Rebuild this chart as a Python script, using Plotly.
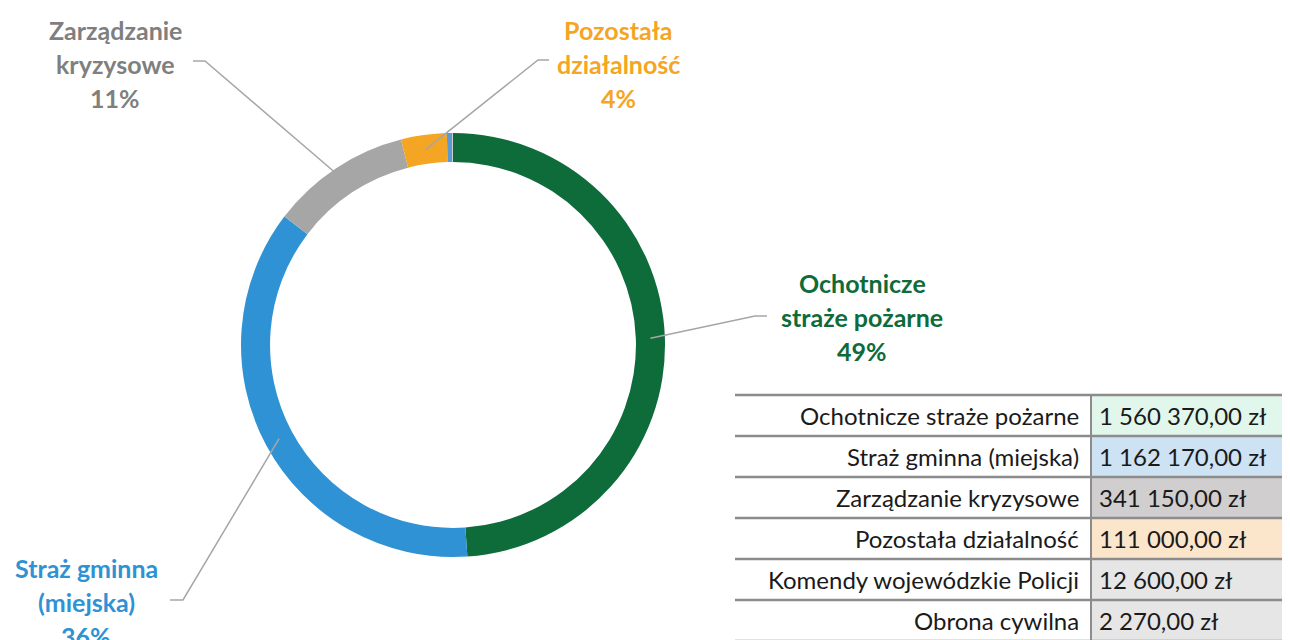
import plotly.graph_objects as go
import numpy as np

# Data (wydatki wg rozdziałów)
categories = ["Ochotnicze straże pożarne", "Straż gminna (miejska)", "Zarządzanie kryzysowe",
              "Pozostała działalność", "Komendy wojewódzkie Policji", "Obrona cywilna"]
amounts = [1560370.00, 1162170.00, 341150.00, 111000.00, 12600.00, 2270.00]
# percentages as printed on the chart labels
pct_shown = [49, 36, 11, 4]
label_lines = [["Ochotnicze", "straże pożarne"], ["Straż gminna", "(miejska)"],
               ["Zarządzanie", "kryzysowe"], ["Pozostała", "działalność"]]

slice_colors = ["#0E6B3A", "#2E92D4", "#A6A6A6", "#F4A523", "#5B9BD5", "#C9C9C9"]
label_colors = ["#0E6B3A", "#2E92D4", "#7F7F7F", "#F4A523"]
cell_colors = ["#E2F7EC", "#CDE2F3", "#D0CECE", "#FCE6CB", "#E6E6E6", "#E6E6E6"]

W, H = 1290, 640
OFF = 8  # page body margin in the browser
FONT = "Lato"


def px(x):
    return (x - OFF) / W


def py(y):
    return 1 - (y - OFF) / H


# donut geometry (pixels on screen)
cx, cy, R, hole = 453, 345, 212, 0.863

fig = go.Figure(go.Pie(
    labels=categories, values=amounts, sort=False, direction="clockwise", rotation=0,
    hole=hole, textinfo="none", hoverinfo="label+value+percent",
    marker=dict(colors=slice_colors, line=dict(width=0)),
    domain=dict(x=[px(cx - R), px(cx + R)], y=[py(cy + R), py(cy - R)]),
    showlegend=False,
))

# outside labels with leader lines (label placement: center x, first line y, elbow, end)
label_pos = [
    dict(x=862, y=283, elbow=(755, 316), end=(767, 316)),
    dict(x=86, y=568, elbow=(183, 600), end=(170, 600)),
    dict(x=115, y=30, elbow=(205, 61), end=(193, 61)),
    dict(x=618, y=30, elbow=(538, 60), end=(549, 60)),
]
total = sum(amounts)
cum = np.cumsum([0] + amounts) / total
r_mid = R * (1 + hole) / 2
shapes, annotations = [], []
for i, pos in enumerate(label_pos):
    ang = np.pi * (cum[i] + cum[i + 1])  # mid angle, clockwise from top
    sx, sy = cx + r_mid * np.sin(ang), cy - r_mid * np.cos(ang)
    ex, ey = pos["elbow"]
    tx, ty = pos["end"]
    shapes.append(dict(type="path", xref="paper", yref="paper",
                       path=f"M {px(sx)} {py(sy)} L {px(ex)} {py(ey)} L {px(tx)} {py(ty)}",
                       line=dict(color="#A6A6A6", width=1.5)))
    lines = label_lines[i] + [f"{pct_shown[i]}%"]
    for j, t in enumerate(lines):
        annotations.append(dict(x=px(pos["x"]), y=py(pos["y"] + 34 * j), xref="paper", yref="paper",
                                text=f"<b>{t}</b>", showarrow=False, xanchor="center", yanchor="middle",
                                font=dict(family=FONT, size=25, color=label_colors[i])))

# table at the bottom right
t_left, t_mid, t_right, t_top, row_h = 735, 1091, 1298, 395, 41
for i, (name, val) in enumerate(zip(categories, amounts)):
    top = t_top + row_h * i
    shapes.append(dict(type="rect", xref="paper", yref="paper", x0=px(t_mid), x1=px(t_right),
                       y0=py(top), y1=py(top + row_h), fillcolor=cell_colors[i], line=dict(width=0),
                       layer="below"))
    val_txt = f"{val:,.2f}".replace(",", " ").replace(".", ",") + " zł"
    annotations.append(dict(x=px(t_mid - 10), y=py(top + row_h / 2), xref="paper", yref="paper",
                            text=name, showarrow=False, xanchor="right", yanchor="middle",
                            font=dict(family=FONT, size=24, color="#1A1A1A")))
    annotations.append(dict(x=px(t_mid + 6), y=py(top + row_h / 2), xref="paper", yref="paper",
                            text=val_txt, showarrow=False, xanchor="left", yanchor="middle",
                            font=dict(family=FONT, size=24, color="#1A1A1A")))
for i in range(len(categories) + 1):
    y = t_top + row_h * i
    shapes.append(dict(type="line", xref="paper", yref="paper", x0=px(t_left), x1=px(t_right),
                       y0=py(y), y1=py(y), line=dict(color="#8C8C8C", width=2.5)))
shapes.append(dict(type="line", xref="paper", yref="paper", x0=px(t_mid), x1=px(t_mid),
                   y0=py(t_top), y1=py(t_top + row_h * len(categories)),
                   line=dict(color="#8C8C8C", width=2)))

fig.update_layout(
    width=W, height=H, margin=dict(l=0, r=0, t=0, b=0),
    paper_bgcolor="white", plot_bgcolor="white",
    shapes=shapes, annotations=annotations,
)

# hide page scrollbars so the table reaches the right edge of the window
fig.write_html("out.html", post_script="document.body.style.overflow = 'hidden';")
